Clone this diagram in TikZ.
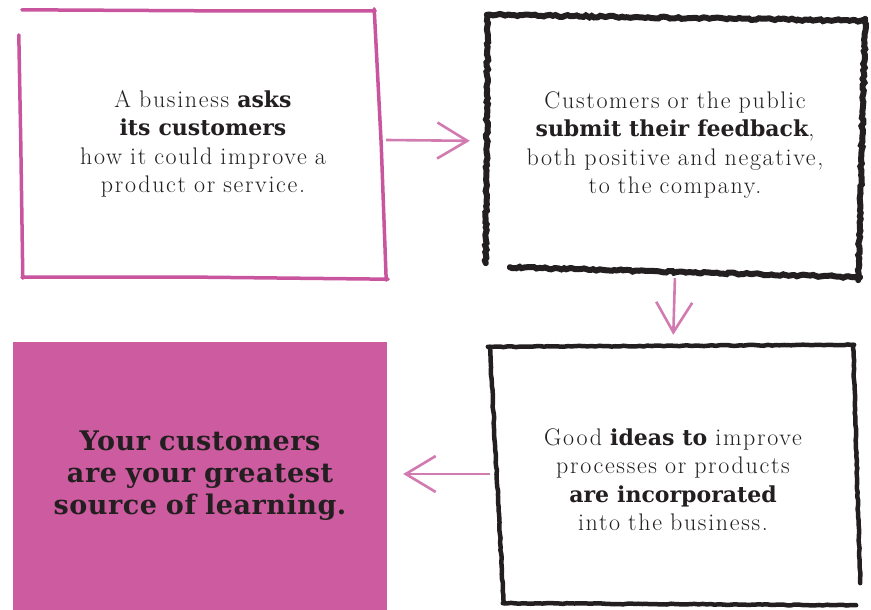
\documentclass[tikz,border=0pt]{standalone}
\usepackage{fontspec}
\usetikzlibrary{arrows.meta,decorations.pathmorphing,calc}
\newfontfamily\slab{DejaVu Serif}
\newfontfamily\lightfont{Latin Modern Roman}[LetterSpace=7]
\newfontfamily\heavyfont{DejaVu Serif}[LetterSpace=2]
\definecolor{pinkline}{HTML}{C8559E}
\definecolor{pinkfill}{HTML}{CC5B9F}
\definecolor{arrowpink}{HTML}{D27BB0}
\definecolor{inkc}{HTML}{231F20}
\newcommand\bb[1]{{\slab\bfseries\fontsize{22}{28.5}\selectfont #1}}
\begin{document}
\begin{tikzpicture}[x=1pt,y=-1pt,
  boxnode/.style={draw=none, inner sep=0pt, align=center, text=inkc,
    font=\lightfont\fontsize{24}{28.5}\selectfont},
  pinkstroke/.style={draw=pinkline, line width=3.5pt, line cap=round},
  roughstroke/.style={draw=inkc, line width=6pt, line cap=round,
    decorate, decoration={random steps, segment length=3pt, amplitude=1pt}},
  roughthin/.style={draw=inkc, line width=4.5pt, line cap=round,
    decorate, decoration={random steps, segment length=4pt, amplitude=0.5pt}},
  flow/.style={draw=arrowpink, line width=2.6pt,
    -{Straight Barb[length=30pt,width=36pt,line width=2.6pt]}}]
\pgfmathsetseed{7}
\useasboundingbox (0,0) rectangle (871,610);
\fill[white] (0,0) rectangle (871,610);

% box 1 (pink outline)
\node[boxnode, minimum width=366pt, minimum height=268pt, text width=346pt] (b1) at (203,144)
  {A business \bb{asks}\\ \bb{its customers}\\ how it could improve a\\ product or service.};
\draw[pinkstroke] ($(b1.north west)+(2,0)$) -- ($(b1.north)+(0,1)$) -- ($(b1.north east)+(-11,1)$);
\draw[pinkstroke] ($(b1.north east)+(-12,-1)$) -- ($(b1.east)+(-5,0)$) -- ($(b1.south east)+(0,2)$);
\draw[pinkstroke] ($(b1.south west)+(2,-1)$) -- ($(b1.south)+(0,-1)$) -- ($(b1.south east)+(2,1)$);
\draw[pinkstroke] ($(b1.north west)+(-1,25)$) -- ($(b1.west)+(1,0)$) -- ($(b1.south west)+(3,0)$);

% box 2 (black rough outline)
\node[boxnode, minimum width=376pt, minimum height=260pt, text width=356pt] (b2) at (675,145)
  {Customers or the public\\ \bb{submit their feedback},\\ both positive and negative,\\ to the company.};
\draw[roughstroke] (b2.north west) -- ($(b2.north east)+(2,6)$);
\draw[roughstroke] ($(b2.north east)+(2,4)$) -- ($(b2.south east)+(-5,5)$);
\draw[roughstroke] ($(b2.south west)+(23,-8)$) -- ($(b2.south east)+(-3,2)$);
\draw[roughstroke] ($(b2.north west)+(1,0)$) -- ($(b2.south west)+(-1,-12)$);

% box 4 (black outline)
\node[boxnode, minimum width=366pt, minimum height=258pt, text width=346pt] (b4) at (673,474)
  {\raisebox{0pt}[28pt][0pt]{}Good \bb{ideas to} improve\\ processes or products\\ \bb{are incorporated}\\ into the business.};
\draw[roughthin] ($(b4.north west)+(-2,2)$) -- ($(b4.north east)+(-2,0)$);
\draw[roughthin] ($(b4.north east)+(-3,0)$) -- ($(b4.south east)+(4,-20)$);
\draw[roughthin] ($(b4.south west)+(13,0)$) -- ($(b4.south east)+(0,2)$);
\draw[roughthin] ($(b4.north west)+(0,2)$) -- ($(b4.south west)+(14,0)$);

% box 3 (pink filled)
\node[draw=none, fill=pinkfill, inner sep=0pt, minimum width=374pt, minimum height=268pt,
  text width=364pt, align=center, text=inkc,
  font=\heavyfont\bfseries\fontsize{27}{32}\selectfont] (b3) at (200,476)
  {Your customers\\ are your greatest\\ source of learning.};

% connectors
\draw[flow, shorten >=17pt] ([yshift=4pt]b1.east) -- ([yshift=4pt]b2.west);
\draw[flow, shorten <=3pt, shorten >=10pt] (b2.south) -- (b4.north);
\draw[flow, shorten >=16pt] (b4.west) -- (b4.west -| b3.east);
\end{tikzpicture}
\end{document}
